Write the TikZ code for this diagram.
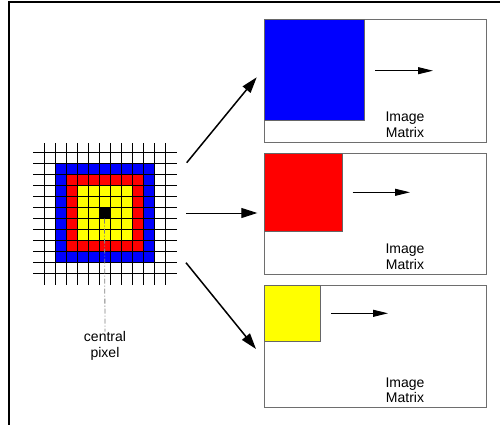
\documentclass[tikz,border=0pt]{standalone}
\usepackage{fontspec}
\setmainfont{Liberation Sans}
\usetikzlibrary{arrows.meta}
\definecolor{pblue}{RGB}{0,0,255}
\definecolor{pred}{RGB}{255,0,0}
\definecolor{pyellow}{RGB}{255,255,0}
\definecolor{boxgray}{RGB}{110,110,110}
\begin{document}
\begin{tikzpicture}[x=1pt,y=-1pt,
  matbox/.style={draw=boxgray,line width=0.9pt,inner sep=0pt,anchor=north west,minimum width=222pt},
  sq/.style={draw=black!60,line width=0.4pt,inner sep=0pt,anchor=north west},
  bigarrow/.style={line width=1.5pt,-{Triangle[length=16pt,width=10pt]}},
  smallarrow/.style={line width=0.9pt,-{Triangle[length=15pt,width=7pt]}},
  lbl/.style={align=center,font=\fontsize{14}{15.5}\selectfont,inner sep=0pt},
  gridline/.style={line width=0.8pt,black}]
\useasboundingbox (0,0) rectangle (500,425);
% outer frame (partly visible)
\draw[line width=1.6pt] (9,425) -- (9,2) -- (500,2);
% pixel neighbourhood
\fill[pblue] (55.5,163.5) rectangle (154.5,262.5);
\fill[pred] (66.5,174.5) rectangle (143.5,251.5);
\fill[pyellow] (77.5,185.5) rectangle (132.5,240.5);
\fill[black] (99.5,207.5) rectangle (110.5,218.5);
\foreach \i in {0,...,11}{
  \draw[gridline] (44.5+11*\i,143) -- (44.5+11*\i,285);
  \draw[gridline] (33,152.5+11*\i) -- (177,152.5+11*\i);
}
\coordinate (cp) at (104.5,218.5);
\node[lbl] (central) at (105,346) {central\\pixel};
\draw[gray,line width=0.8pt,dash pattern=on 5pt off 2pt on 1pt off 2pt] (cp) -- (central.north);
% image matrix boxes
\node[matbox,minimum height=122pt] (m1) at (264,19.5) {};
\node[matbox,minimum height=121pt] (m2) at (264,152.5) {};
\node[matbox,minimum height=122pt] (m3) at (264,285) {};
\node[sq,fill=pblue,minimum width=100pt,minimum height=100pt] (s1) at (m1.north west) {};
\node[sq,fill=pred,minimum width=78pt,minimum height=78pt] (s2) at (m2.north west) {};
\node[sq,fill=pyellow,minimum width=55.5pt,minimum height=55.5pt] (s3) at (m3.north west) {};
\node[lbl] (t1) at (405,125) {Image\\Matrix};
\node[lbl] (t2) at (405,257) {Image\\Matrix};
\node[lbl] (t3) at (405,390) {Image\\Matrix};
% small arrows in boxes
\coordinate (a1s) at (375,70.7); \coordinate (a1e) at (433,70.7);
\coordinate (a2s) at (352.7,192.3); \coordinate (a2e) at (410,192.3);
\coordinate (a3s) at (331,313.3); \coordinate (a3e) at (388,313.3);
\draw[smallarrow] (a1s) -- (a1e);
\draw[smallarrow] (a2s) -- (a2e);
\draw[smallarrow] (a3s) -- (a3e);
% big arrows
\coordinate (b1s) at (186.7,162.7); \coordinate (b1e) at (256.7,77.3);
\coordinate (b2s) at (186,213); \coordinate (b2e) at (257.3,213);
\coordinate (b3s) at (186,262.7); \coordinate (b3e) at (256,349);
\draw[bigarrow] (b1s) -- (b1e);
\draw[bigarrow,line width=0.9pt] (b2s) -- (b2e);
\draw[bigarrow] (b3s) -- (b3e);
\end{tikzpicture}
\end{document}
